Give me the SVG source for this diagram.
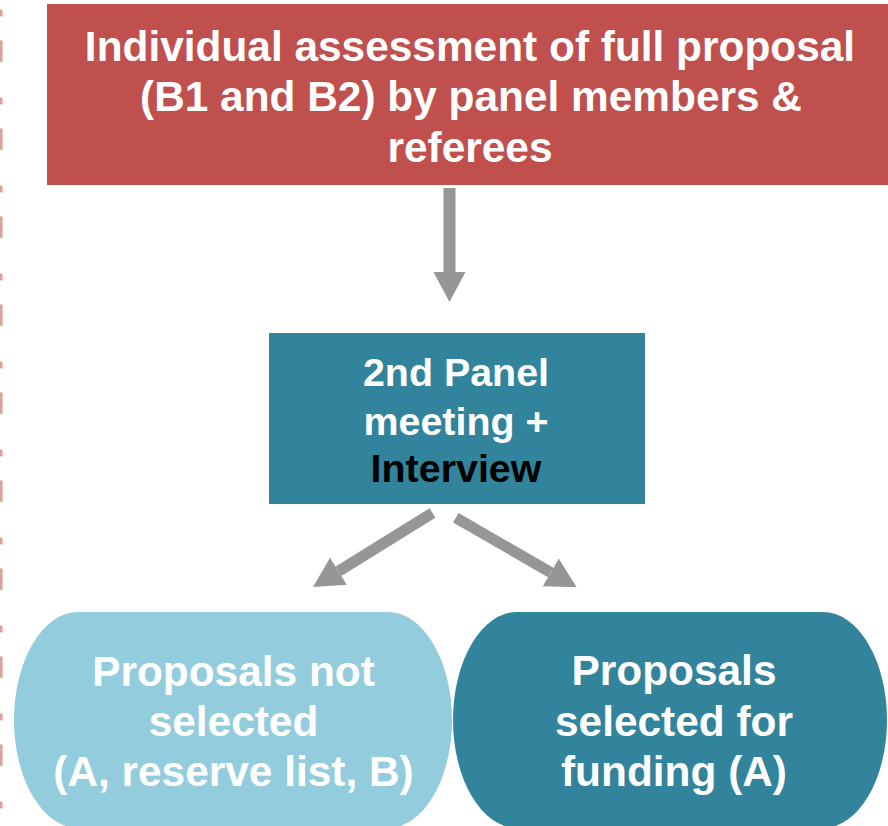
<svg xmlns="http://www.w3.org/2000/svg" width="888" height="826" viewBox="0 0 888 826">
<defs>
<style>
.t{font-family:"Liberation Sans",Arial,sans-serif;font-weight:bold;text-anchor:middle;fill:#ffffff}
.big{font-size:42.4px}
.mid{font-size:39.4px}
.conn{stroke:#969696;stroke-width:12;fill:none;marker-end:url(#head)}
</style>
<marker id="head" markerUnits="userSpaceOnUse" viewBox="0 0 30 32" markerWidth="30" markerHeight="32" refX="0" refY="16" orient="auto">
<path d="M0,0 L30,16 L0,32 Z" fill="#969696"/>
</marker>
</defs>
<rect width="888" height="826" fill="#ffffff"/>
<line x1="1.3" y1="-78.5" x2="1.3" y2="830" stroke="#dda0a0" stroke-width="2.6" stroke-dasharray="7 24 21.5 35.5"/>
<g id="assessment">
<rect x="47" y="4" width="841" height="181" fill="#c0504d"/>
<text class="t big" x="470" y="60.5">Individual assessment of full proposal</text>
<text class="t big" x="471" y="111">(B1 and B2) by panel members &amp;</text>
<text class="t big" x="470" y="161.5">referees</text>
</g>
<g id="panel-meeting">
<rect x="269" y="333" width="376" height="171" fill="#31849b"/>
<text class="t mid" x="456" y="385.5">2nd Panel</text>
<text class="t mid" x="456" y="434.5">meeting +</text>
<text class="t mid" x="456" y="481.5" fill="#000000" style="fill:#000000">Interview</text>
</g>
<g id="not-selected">
<rect x="14" y="612" width="438" height="216" rx="64" ry="108" fill="#93cddd"/>
<text class="t big" x="233.5" y="686">Proposals not</text>
<text class="t big" x="233.5" y="736">selected</text>
<text class="t big" x="233.5" y="786">(A, reserve list, B)</text>
</g>
<g id="selected">
<rect x="453" y="612" width="434" height="216" rx="64" ry="108" fill="#31849b"/>
<text class="t big" x="674" y="685">Proposals</text>
<text class="t big" x="674" y="735.5">selected for</text>
<text class="t big" x="674" y="786">funding (A)</text>
</g>
<g id="connectors">
<line class="conn" x1="449.5" y1="188" x2="449.5" y2="272"/>
<line class="conn" x1="432.5" y1="513" x2="338.5" y2="571.2" style="stroke-width:11"/>
<line class="conn" x1="455.8" y1="517.8" x2="550.7" y2="572.4" style="stroke-width:11"/>
</g>
</svg>
